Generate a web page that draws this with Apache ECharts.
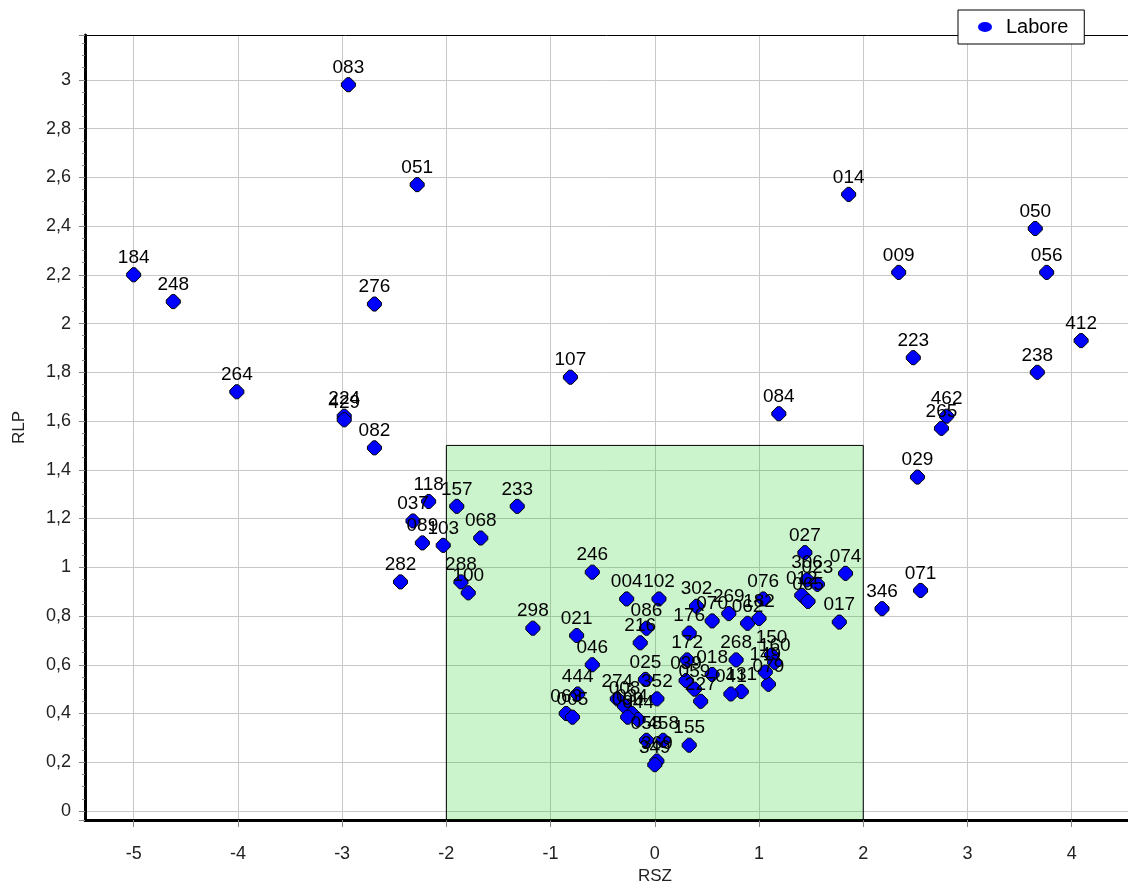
<!DOCTYPE html>
<html>
<head>
<meta charset="utf-8">
<script src="https://cdn.jsdelivr.net/npm/echarts@6/dist/echarts.min.js"></script>
<style>
  html, body { margin: 0; padding: 0; background: #fff; }
  #chart { width: 1128px; height: 890px; }
</style>
</head>
<body>
<div id="chart"></div>
<script>
// point labels, RSZ (x) and RLP (y) values
var names = ["184","248","264","083","051","276","224","429","082","118",
             "037","089","103","157","068","233","282","288","100","246",
             "107","298","084","014","009","050","056","412","238","223",
             "462","265","029","071","346","074","027","017","306","023",
             "012","065","004","102","086","216","021","046","302","070",
             "269","062","076","182","176","172","268","150","160","079",
             "149","131","041","018","227","059","039","025","352","444",
             "063","005","274","008","034","044","090","058","458","369",
             "349","155"];
var rsz = [-5.00,-4.62,-4.01,-2.94,-2.28,-2.69,-2.98,-2.98,-2.69,-2.17,
           -2.32,-2.23,-2.03,-1.90,-1.67,-1.32,-2.44,-1.86,-1.79,-0.60,
           -0.81,-1.17, 1.19, 1.86, 2.34, 3.65, 3.76, 4.09, 3.67, 2.48,
            2.80, 2.75, 2.52, 2.55, 2.18, 1.83, 1.44, 1.77, 1.46, 1.56,
            1.41, 1.47,-0.27, 0.04,-0.08,-0.14,-0.75,-0.60, 0.40, 0.55,
            0.71, 0.89, 1.04, 1.00, 0.33, 0.31, 0.78, 1.12, 1.15, 1.09,
            1.06, 0.83, 0.73, 0.55, 0.44, 0.38, 0.30,-0.09, 0.02,-0.74,
           -0.85,-0.79,-0.36,-0.29,-0.22,-0.16,-0.26,-0.08, 0.08, 0.02,
            0.00, 0.33];
var rlp = [2.20, 2.09, 1.72, 2.98, 2.57, 2.08, 1.62, 1.605,1.49, 1.27,
           1.19, 1.10, 1.09, 1.25, 1.12, 1.25, 0.94, 0.94, 0.895,0.98,
           1.78, 0.75, 1.63, 2.53, 2.21, 2.39, 2.21, 1.93, 1.80, 1.86,
           1.62, 1.57, 1.37, 0.905,0.83, 0.975,1.06, 0.775,0.948,0.93,
           0.885,0.86, 0.87, 0.87, 0.75, 0.69, 0.72, 0.60, 0.84, 0.78,
           0.81, 0.77, 0.87, 0.79, 0.73, 0.62, 0.62, 0.64, 0.61, 0.52,
           0.57, 0.49, 0.48, 0.56, 0.45, 0.50, 0.535,0.54, 0.46, 0.48,
           0.40, 0.385,0.46, 0.43, 0.40, 0.375,0.385,0.29, 0.29, 0.205,
           0.19, 0.27];
var seriesName = "Labore";
var boxX = [-2, 2];     // green target zone
var boxY = [0, 1.5];
var xTicks = [-5, -4, -3, -2, -1, 0, 1, 2, 3, 4];

var X_MIN = -5.467, X_MAX = 4.54, Y_MIN = -0.037, Y_MAX = 3.184;

var points = [];
for (var i = 0; i < names.length; i++) {
    points.push({ name: names[i], value: [rsz[i], rlp[i]] });
}

var FONT = 'Liberation Sans';
var chart = echarts.init(document.getElementById('chart'));
var option = {
    animation: false,
    backgroundColor: '#fff',
    grid: { left: 85, right: 0, top: 35, bottom: 69 },
    legend: {
        left: 958, top: 10,
        padding: [7, 16, 7, 20],
        backgroundColor: '#fff',
        borderColor: '#000', borderWidth: 1,
        itemWidth: 14, itemHeight: 10,
        icon: 'path://M0,5 A7,5 0 1,0 14,5 A7,5 0 1,0 0,5 Z',
        itemStyle: { borderWidth: 0 },
        textStyle: { fontFamily: FONT, fontSize: 20, color: '#000', padding: [0, 0, 0, 9] },
        data: [seriesName]
    },
    xAxis: [{
        type: 'value', min: X_MIN, max: X_MAX,
        minInterval: 1, maxInterval: 1, splitNumber: 10,
        name: 'RSZ', nameLocation: 'middle', nameGap: 48,
        nameTextStyle: { fontFamily: FONT, fontSize: 17, color: '#222', padding: [0, 0, 0, 97] },
        axisLine: { onZero: false, lineStyle: { color: '#000', width: 3 } },
        axisTick: { show: true, length: 7, lineStyle: { color: '#888' } },
        axisLabel: {
            fontFamily: FONT, fontSize: 18, color: '#222', margin: 25,
            showMinLabel: false, showMaxLabel: false,
            formatter: function (v) { return xTicks.indexOf(v) >= 0 ? String(v) : ''; }
        },
        splitLine: { lineStyle: { color: '#c8c8c8', width: 1 } }
    }, {
        type: 'value', position: 'top', min: X_MIN, max: X_MAX,
        axisLine: { show: true, onZero: false, lineStyle: { color: '#000', width: 1 } },
        axisTick: { show: false }, axisLabel: { show: false }, splitLine: { show: false }
    }],
    yAxis: {
        type: 'value', min: Y_MIN, max: Y_MAX,
        minInterval: 0.2, maxInterval: 0.2, splitNumber: 16,
        name: 'RLP', nameLocation: 'middle', nameGap: 57,
        nameTextStyle: { fontFamily: FONT, fontSize: 17, color: '#222' },
        axisLine: { show: true, onZero: false, lineStyle: { color: '#000', width: 3 } },
        axisTick: { show: true, length: 6, lineStyle: { color: '#888' } },
        minorTick: { show: true, splitNumber: 4, length: 3, lineStyle: { color: '#888' } },
        axisLabel: {
            fontFamily: FONT, fontSize: 18, color: '#222', margin: 14,
            showMinLabel: false, showMaxLabel: false,
            formatter: function (v) {
                return String(Math.round(v * 10) / 10).replace('.', ',');
            }
        },
        splitLine: { lineStyle: { color: '#c8c8c8', width: 1 } }
    },
    series: [{
        name: seriesName,
        type: 'scatter',
        symbol: 'path://M5,0 L8,0 L13,5 L13,8 L8,13 L5,13 L0,8 L0,5 Z',
        symbolSize: 14,
        itemStyle: { color: '#0000ff', borderColor: '#000', borderWidth: 1, opacity: 1 },
        label: {
            show: true, position: 'top', distance: 0,
            fontFamily: FONT, fontSize: 19, color: '#000',
            formatter: function (p) { return p.name; }
        },
        emphasis: { disabled: true },
        data: points,
        markArea: {
            silent: true,
            itemStyle: { color: 'rgba(0,200,0,0.2)', borderColor: '#000', borderWidth: 1 },
            data: [[{ coord: [boxX[0], Y_MIN] }, { coord: [boxX[1], boxY[1]] }]]
        }
    }]
};
chart.setOption(option);
</script>
</body>
</html>
